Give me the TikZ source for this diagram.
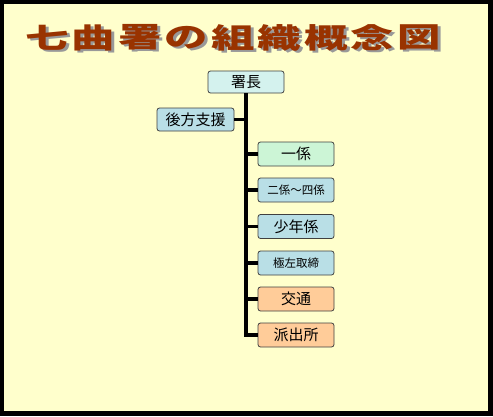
\documentclass[tikz,border=0pt]{standalone}
\usepackage{fontspec}
\newfontfamily\jp{Noto Sans CJK JP}
\definecolor{bgyellow}{HTML}{FFFFCC}
\definecolor{titlered}{HTML}{993300}
\definecolor{chiefcol}{HTML}{D4F2EE}
\definecolor{bluebox}{HTML}{B9DFE6}
\definecolor{greenbox}{HTML}{CCF5D6}
\definecolor{peachbox}{HTML}{FFCC99}
\newcommand{\shadowch}[1]{\makebox[0pt][l]{\kern2pt\raisebox{-2pt}{\color{black!40}#1}}#1}
\tikzset{
  orgbox/.style={draw=black!75, line width=0.8pt, rounded corners=2.5pt,
    minimum width=76pt, minimum height=24pt, inner sep=0pt,
    font=\jp\fontsize{15}{15}\selectfont},
  smalltext/.style={font=\jp\fontsize{11.5}{11.5}\selectfont},
  conn/.style={line width=3.5pt, black, line join=miter},
  titlech/.style={text=titlered, inner sep=0pt, font=\jp\bfseries\fontsize{28}{28}\selectfont}
}
\begin{document}
\begin{tikzpicture}[x=1pt,y=-1pt]
\useasboundingbox (0,0) rectangle (493,416);
\fill[black] (0,0) rectangle (493,416);
\fill[bgyellow] (4,4) rectangle (488,411);
% title
\foreach \ch [count=\i] in {七,曲,署,の,組,織,概,念,図}{
  \pgfmathsetmacro{\cx}{47+46.5*(\i-1)}
  \node[titlech] (t\i) at (\cx,38.5) {\scalebox{1.55}[1]{\shadowch{\ch}}};
}
% boxes
\node[orgbox, fill=chiefcol, minimum height=22pt] (chief) at (246,82) {署長};
\node[orgbox, fill=bluebox, minimum width=77pt, minimum height=23pt] (support) at (195.5,119.5) {後方支援};
\node[orgbox, fill=greenbox] (c1) at (296,154) {一係};
\node[orgbox, fill=bluebox, smalltext] (c2) at (296,190) {二係～四係};
\node[orgbox, fill=bluebox] (c3) at (296,226.5) {少年係};
\node[orgbox, fill=bluebox, smalltext] (c4) at (296,263) {極左取締};
\node[orgbox, fill=peachbox] (c5) at (296,299) {交通};
\node[orgbox, fill=peachbox] (c6) at (296,335) {派出所};
% connectors
\draw[conn] (chief.south) |- (c6.west);
\draw[conn] (support.east) -- (support.east -| chief.south);
\foreach \n in {c1,c2,c3,c4,c5}{
  \draw[conn] (\n.west) -- (\n.west -| chief.south);
}
\end{tikzpicture}
\end{document}
